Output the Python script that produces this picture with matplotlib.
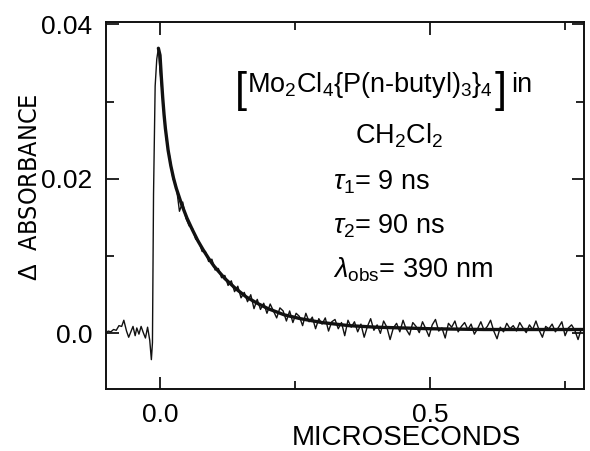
"""
Transient absorbance decay of [Mo2Cl4{P(n-butyl)3}4] in CH2Cl2,
raw trace plus biexponential fit.
"""

import numpy as np
import matplotlib
matplotlib.use("Agg")
import matplotlib.pyplot as plt

plt.rcParams['font.family'] = ['Liberation Sans', 'DejaVu Sans']
plt.rcParams['mathtext.fontset'] = 'custom'
plt.rcParams['mathtext.rm'] = 'Liberation Sans'
plt.rcParams['mathtext.it'] = 'Liberation Sans:italic'

# raw trace before and through the laser pulse (microseconds, mAbs)
pre_t = [-0.100, -0.096, -0.091, -0.086, -0.081, -0.076, -0.071, -0.067,
         -0.062, -0.058, -0.054, -0.050, -0.046, -0.043, -0.039, -0.035,
         -0.031, -0.027, -0.023, -0.019, -0.016, -0.014, -0.012, -0.009,
         -0.006, -0.003]
pre_abs = [0.0, 0.3, 0.2, 0.5, 0.4, 1.0, 0.9, 1.7, 0.3, -0.5, 0.2, 0.9,
           -0.3, 0.7, -0.1, 0.9, 0.1, -0.6, 0.8, -0.9, -3.4, -1.2, 18.0,
           32.0, 35.5, 36.9]

# raw trace after the pulse, one point every 6 ns starting at t = 0
post_step = 0.006
post_abs = [34.0, 29.8, 25.0, 22.8, 20.0, 19.1, 15.8, 17.0, 14.9, 13.9,
            13.6, 12.2, 11.9, 10.6, 10.6, 9.3, 9.6, 8.2, 8.4, 7.2,
            7.5, 6.2, 6.8, 5.4, 6.1, 4.6, 5.3, 4.1, 5.0, 3.2,
            4.4, 3.1, 3.9, 2.6, 3.8, 2.9, 2.0, 3.3, 2.9, 1.6,
            2.9, 1.4, 2.6, 2.2, 1.0, 2.6, 1.5, 2.1, 0.6, 1.9,
            1.2, 2.0, 0.3, 1.5, 1.8, 0.6, 1.4, -0.3, 1.7, 0.8,
            1.5, 0.2, 1.2, -0.5, 0.9, 1.9, 0.4, 1.1, 0.0, 1.6,
            0.8, -0.8, 0.7, 1.3, 0.2, 1.7, 0.5, -0.2, 1.4, 0.9,
            0.1, 1.5, 0.6, -0.4, 1.1, 1.8, 0.3, 0.7, -0.6, 1.3,
            0.8, 1.6, 0.2, 0.9, 1.4, 0.5, 1.2, -0.1, 0.6, 1.5,
            0.4, 0.9, 1.7, 0.3, -0.7, 0.8, 0.2, 1.3, 0.6, 1.0,
            0.3, 1.4, 0.7, 0.1, 1.1, 0.5, 1.6, 0.4, -0.5, 0.9,
            0.6, 1.2, 0.2, 0.8, 1.5, -0.3, 0.7, 1.1, 0.4, -0.8, 0.6]

# fitted curve (tau1 = 9 ns, tau2 = 90 ns)
fit_t = [-0.003, 0.0, 0.0025, 0.005, 0.0075, 0.01, 0.015, 0.02, 0.025,
         0.03, 0.04, 0.05, 0.06, 0.07, 0.08, 0.09, 0.10, 0.12, 0.14, 0.16,
         0.18, 0.20, 0.23, 0.26, 0.30, 0.35, 0.40, 0.45, 0.50, 0.60, 0.70,
         0.785]
fit_abs = [36.9, 36.0, 33.1, 30.5, 28.3, 26.5, 23.7, 21.7, 20.1, 18.8, 16.7,
           14.9, 13.4, 12.0, 10.8, 9.7, 8.7, 7.1, 5.8, 4.7, 3.9, 3.2, 2.4,
           1.9, 1.4, 1.0, 0.8, 0.7, 0.6, 0.5, 0.5, 0.5]

ytick_vals = [0.0, 0.02, 0.04]
ytick_labels = ['0.0', '0.02', '0.04']
xtick_vals = [0.0, 0.5]
xtick_labels = ['0.0', '0.5']

W, H = 590, 451
fig = plt.figure(figsize=(W / 100, H / 100), dpi=100)
ax = fig.add_axes([106 / W, 1 - 389 / H, (584 - 106) / W, (389 - 22) / H])

# build the full raw trace
post_t = np.arange(len(post_abs)) * post_step
trace_t = np.concatenate([pre_t, post_t])
trace_y = np.concatenate([pre_abs, post_abs]) * 1e-3

ax.plot(trace_t, trace_y, color='#111111', lw=1.0)
ax.plot(fit_t, np.array(fit_abs) * 1e-3, color='#111111', lw=2.4,
        solid_capstyle='round')

ax.set_xlim(-0.1, 0.785)
ax.set_ylim(-0.0072, 0.0403)

ax.set_xticks(xtick_vals)
ax.set_xticklabels(xtick_labels)
ax.set_xticks([0.25, 0.75], minor=True)
ax.set_yticks(ytick_vals)
ax.set_yticklabels(ytick_labels)
ax.set_yticks([0.01, 0.03], minor=True)

ax.tick_params(which='both', direction='in', top=True, right=True,
               labelsize=19, width=1.2, pad=10)
ax.tick_params(which='major', length=9)
ax.tick_params(which='minor', length=6)
for sp in ax.spines.values():
    sp.set_linewidth(1.4)
    sp.set_color('#111111')

# axis titles
fig.text(30 / W, 1 - 187 / H, '$\\Delta$  ABSORBANCE', rotation=90,
         ha='center', va='center', fontsize=18,
         family='DejaVu Sans', fontstretch='condensed')
fig.text(406 / W, 1 - 438 / H, 'MICROSECONDS', ha='center', va='center',
         fontsize=20)

# annotation block
fs = 19.5
renderer = fig.canvas.get_renderer()

# first line with tall square brackets around the formula
fig.text(235 / W, 1 - 102 / H, '[', ha='left', va='baseline', fontsize=31)
formula = fig.text(247 / W, 1 - 92 / H,
                   'Mo$_2$Cl$_4${P(n-butyl)$_3$}$_4$',
                   ha='left', va='baseline', fontsize=fs)
fx1 = formula.get_window_extent(renderer=renderer).x1
fig.text((fx1 + 2) / W, 1 - 102 / H, ']', ha='left', va='baseline',
         fontsize=31)
fig.text((fx1 + 18) / W, 1 - 92 / H, 'in', ha='left', va='baseline',
         fontsize=fs)

fig.text(355 / W, 1 - 143 / H, r'CH$_2$Cl$_2$', ha='left', va='baseline',
         fontsize=fs)
fig.text(333 / W, 1 - 190 / H, r'$\tau_1$= 9 ns', ha='left', va='baseline',
         fontsize=fs)
fig.text(333 / W, 1 - 233 / H, r'$\tau_2$= 90 ns', ha='left', va='baseline',
         fontsize=fs)
fig.text(333 / W, 1 - 277 / H, r'$\lambda_{\mathrm{obs}}$= 390 nm',
         ha='left', va='baseline', fontsize=fs)

fig.savefig('out.png', dpi=100)
